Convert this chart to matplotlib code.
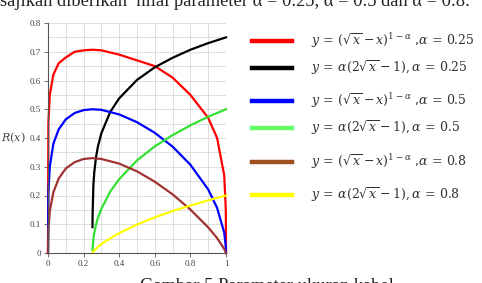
import numpy as np
import matplotlib
matplotlib.use('Agg')
import matplotlib.pyplot as plt
from matplotlib.lines import Line2D

plt.rcParams['mathtext.fontset'] = 'dejavuserif'

# x positions for the (sqrt(x) - x) curves
x_left = [0, 0.002, 0.01, 0.03, 0.06, 0.1, 0.15, 0.2, 0.25, 0.3, 0.4, 0.5,
          0.6, 0.7, 0.8, 0.9, 0.95, 0.99, 0.999, 1.0]
red_vals = [0, 0.45, 0.55, 0.62, 0.66, 0.68, 0.70, 0.705, 0.707, 0.705, 0.69, 0.67,
            0.65, 0.61, 0.55, 0.47, 0.40, 0.27, 0.15, 0]
blue_vals = [0, 0.21, 0.30, 0.38, 0.43, 0.465, 0.487, 0.497, 0.50, 0.498, 0.482, 0.455,
             0.418, 0.37, 0.307, 0.221, 0.157, 0.071, 0.022, 0]
brown_vals = [0, 0.08, 0.146, 0.211, 0.259, 0.294, 0.316, 0.327, 0.33, 0.327, 0.311, 0.284,
              0.248, 0.204, 0.151, 0.089, 0.052, 0.014, 0.002, 0]

# x positions for the alpha(2 sqrt(x) - 1) curves
x_right = [0.25, 0.2505, 0.255, 0.26, 0.27, 0.28, 0.3, 0.35, 0.4, 0.5,
           0.6, 0.7, 0.8, 0.9, 1.0]
black_vals = [0.09, 0.133, 0.237, 0.281, 0.334, 0.369, 0.417, 0.491, 0.538, 0.602,
              0.646, 0.679, 0.707, 0.730, 0.75]
green_vals = [0.01, 0.016, 0.05, 0.07, 0.099, 0.121, 0.154, 0.214, 0.257, 0.322,
              0.371, 0.410, 0.444, 0.474, 0.5]
yellow_vals = [0.0, 0.001, 0.005, 0.009, 0.015, 0.021, 0.031, 0.051, 0.069, 0.099,
               0.124, 0.146, 0.165, 0.183, 0.2]

xticks = [0, 0.2, 0.4, 0.6, 0.8, 1]
xtick_labels = ['0', '0.2', '0.4', '0.6', '0.8', '1']
yticks = [0, 0.1, 0.2, 0.3, 0.4, 0.5, 0.6, 0.7, 0.8]
ytick_labels = ['0', '0.1', '0.2', '0.3', '0.4', '0.5', '0.6', '0.7', '0.8']

legend_labels = [
    r'$y\,=\,\left(\sqrt{x}-x\right)^{1-\alpha}$ ,$\alpha\,=\,0.25$',
    r'$y\,=\,\alpha\left(2\sqrt{x}-1\right),\alpha\,=\,0.25$',
    r'$y\,=\,\left(\sqrt{x}-x\right)^{1-\alpha}$ ,$\alpha\,=\,0.5$',
    r'$y\,=\,\alpha\left(2\sqrt{x}-1\right),\alpha\,=\,0.5$',
    r'$y\,=\,\left(\sqrt{x}-x\right)^{1-\alpha}$ ,$\alpha\,=\,0.8$',
    r'$y\,=\,\alpha\left(2\sqrt{x}-1\right),\alpha\,=\,0.8$',
]
legend_colors = ['#ff0000', '#000000', '#0000ff', '#66ff66', '#a0501e', '#ffff00']
legend_y = [41, 68, 101, 128, 162, 195]  # pixel rows from top

fig = plt.figure(figsize=(4.82, 2.83), dpi=100)
ax = fig.add_axes([48 / 482, 1 - 253 / 283, 178 / 482, 230 / 283])

lw = 1.6
ax.plot(x_left, red_vals, color='#ff0000', lw=lw, clip_on=False)
ax.plot(x_right, black_vals, color='#000000', lw=lw, clip_on=False)
ax.plot(x_left, blue_vals, color='#0000ff', lw=lw, clip_on=False)
ax.plot(x_right, green_vals, color='#33e033', lw=lw, clip_on=False)
ax.plot(x_left, brown_vals, color='#a03232', lw=lw, clip_on=False)
ax.plot(x_right, yellow_vals, color='#ffff00', lw=lw, clip_on=False)

ax.set_xlim(0, 1)
ax.set_ylim(0, 0.8)
ax.set_xticks(xticks)
ax.set_xticklabels(xtick_labels)
ax.set_yticks(yticks)
ax.set_yticklabels(ytick_labels)
ax.set_xticks(np.arange(0.1, 1.0, 0.2), minor=True)
ax.set_yticks(np.arange(0.05, 0.8, 0.1), minor=True)
ax.grid(True, which='both', color='#d8d8d8', lw=0.6)
ax.set_axisbelow(True)
for s in ['top', 'right']:
    ax.spines[s].set_visible(False)
for s in ['left', 'bottom']:
    ax.spines[s].set_color('#555555')
    ax.spines[s].set_linewidth(0.8)
ax.tick_params(which='major', length=3, width=0.6, color='#555555', labelsize=6.5,
               labelcolor='#444444', pad=2)
ax.tick_params(which='minor', length=0)
for lab in ax.get_xticklabels() + ax.get_yticklabels():
    lab.set_family('Liberation Serif')

fig.text(13 / 482, 1 - 138 / 283, r'$R(x)$', fontsize=8, color='#444444',
         ha='center', va='center')

# legend drawn by hand on the right side
for lab, col, yp in zip(legend_labels, legend_colors, legend_y):
    yf = 1 - yp / 283
    fig.add_artist(Line2D([252 / 482, 292 / 482], [yf, yf], color=col, lw=3.2,
                          transform=fig.transFigure))
    fig.text(311 / 482, yf, lab, fontsize=9, color='#333333', ha='left', va='center')

fig.text(0.0, 1 - 6 / 283, 'sajikan diberikan  nilai parameter α = 0.25, α = 0.5 dan α = 0.8.',
         fontsize=13.3, family='Liberation Serif', color='#222222', ha='left', va='baseline')
fig.text(140 / 482, 1 - 291 / 283, 'Gambar 5 Parameter ukuran kabel',
         fontsize=13.3, family='Liberation Serif', color='#222222', ha='left', va='baseline')

fig.savefig('out.png', dpi=100)
